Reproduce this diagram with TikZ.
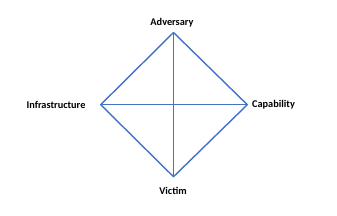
\documentclass[tikz,border=0pt]{standalone}
\usepackage{fontspec}
\setmainfont{Carlito}
\definecolor{officeblue}{HTML}{4472C4}
\begin{document}
\begin{tikzpicture}[x=1pt,y=-1pt,
  lbl/.style={font=\fontsize{10.3}{12}\selectfont\bfseries, inner sep=0pt},
  edge/.style={draw=officeblue, line width=1.4pt, line cap=round, line join=round}]
\useasboundingbox (0,0) rectangle (337,215);
\coordinate (A) at (173.5,32.5);
\coordinate (I) at (100.7,104.7);
\coordinate (C) at (247.3,104.7);
\coordinate (V) at (173.5,176.7);
\node[lbl] (ta) at (172,22.7) {Adversary};
\node[lbl] (ti) at (56,104.5) {Infrastructure};
\node[lbl] (tc) at (273.5,104.5) {Capability};
\node[lbl] (tv) at (173,191.3) {Victim};
\draw[edge] (A) -- (C) -- (V) -- (I) -- cycle;
\draw[edge] (A) -- (V);
\draw[edge] (I) -- (C);
\end{tikzpicture}
\end{document}
